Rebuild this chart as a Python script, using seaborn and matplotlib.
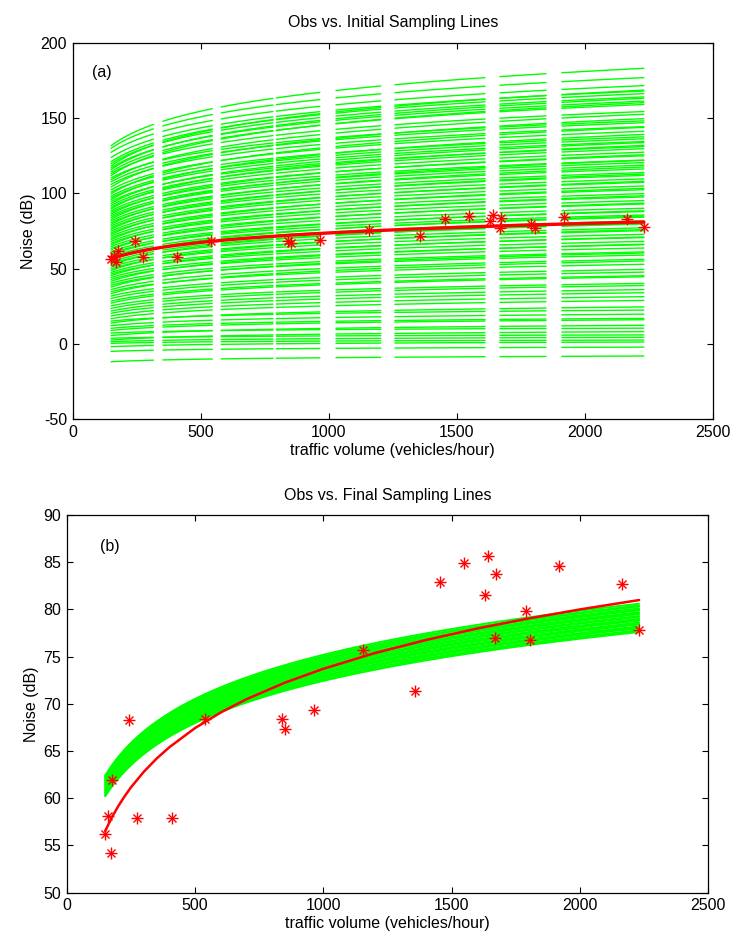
import numpy as np
import pandas as pd
import matplotlib
matplotlib.use("Agg")
import matplotlib.pyplot as plt
import seaborn as sns

# ---------------- data ----------------
obs_volume = [149, 160, 171, 175, 243, 273, 409, 539, 839, 851, 965, 1156,
              1355, 1455, 1547, 1628, 1641, 1668, 1673, 1789, 1806, 1917, 2165, 2230]
obs_noise = [56.2, 58.1, 54.2, 61.9, 68.3, 57.9, 57.9, 68.4, 68.4, 67.3, 69.3, 75.7,
             71.4, 82.9, 84.9, 81.5, 85.7, 77.0, 83.7, 79.8, 76.8, 84.6, 82.7, 77.8]

# fitted (red) curve, read at several volumes
fit_volume = [150, 165, 180, 200, 225, 250, 300, 350, 400, 500, 600, 700, 850,
              1000, 1200, 1400, 1600, 1800, 2000, 2230]
fit_noise = [56.51, 57.37, 58.16, 59.12, 60.18, 61.14, 62.79, 64.19, 65.40, 67.43,
             69.08, 70.48, 72.24, 73.71, 75.37, 76.76, 77.98, 79.04, 80.00, 80.99]

# sampling lines: value at the first volume (150) and at the last volume (2230)
init_start = [131.6, 129.9, 127.2, 123.8, 121.0, 119.7, 118.1, 116.9, 115.8, 114.3,
              113.1, 111.8, 110.2, 108.9, 107.6, 105.9, 104.1, 102.4, 100.8, 99.6,
              98.1, 96.9, 95.7, 94.5, 93.2, 92.0, 90.8, 89.7, 88.5, 87.4,
              86.2, 85.1, 84.0, 82.8, 81.7, 80.5, 79.4, 78.3, 77.1, 76.0,
              74.9, 73.7, 72.6, 71.5, 70.3, 69.2, 68.1, 66.9, 65.8, 64.7,
              63.5, 62.4, 61.2, 60.1, 58.9, 57.8, 56.7, 55.5, 54.4, 53.3,
              52.1, 51.0, 49.8, 48.7, 47.5, 46.4, 45.3, 44.1, 42.9, 41.6,
              40.3, 39.0, 37.8, 36.1, 34.7, 33.4, 31.8, 30.2, 28.4, 27.1,
              25.3, 23.6, 21.9, 20.4, 18.6, 16.8, 15.2, 13.9, 12.1, 10.4,
              9.0, 7.3, 5.6, 3.8, 2.6, 1.5, 0.4, -1.8, -4.9, -11.8]
init_end = [183.0, 176.8, 171.5, 167.9, 166.2, 164.0, 168.5, 161.2, 163.1, 159.0,
            154.3, 160.2, 148.1, 152.5, 146.9, 144.3, 149.6, 141.2, 137.5, 143.8,
            136.2, 134.4, 139.1, 131.0, 133.7, 129.6, 127.3, 131.8, 124.9, 122.1,
            125.6, 120.4, 118.7, 121.9, 116.2, 113.8, 117.5, 111.9, 109.6, 112.8,
            107.3, 104.9, 108.0, 102.4, 99.8, 103.3, 97.6, 95.2, 98.4, 92.9,
            90.1, 93.5, 87.9, 85.6, 88.4, 84.2, 81.7, 84.9, 79.6, 77.1,
            80.3, 75.2, 72.8, 75.9, 70.6, 68.1, 71.0, 65.9, 63.7, 66.2,
            61.1, 59.0, 60.4, 56.2, 52.9, 55.1, 49.5, 47.7, 45.3, 44.6,
            40.2, 38.8, 36.1, 34.0, 31.4, 28.9, 22.5, 24.6, 19.8, 17.0,
            16.1, 10.5, 12.4, 6.0, 8.2, 4.4, 2.6, 1.3, -2.1, -8.0]

final_start = [62.4, 62.3, 62.2, 62.1, 62.0, 61.9, 61.8, 61.7, 61.6, 61.5, 61.4, 61.3,
               61.2, 61.1, 61.0, 60.9, 60.8, 60.7, 60.6, 60.5, 60.4, 60.3, 60.2]
final_end = [80.6, 80.4, 80.3, 80.1, 80.0, 79.9, 79.7, 79.6, 79.5, 79.3, 79.2, 79.0,
             78.9, 78.8, 78.6, 78.5, 78.4, 78.2, 78.1, 78.0, 77.8, 77.7, 77.6]

line_volume_first = 150
line_volume_last = 2230

# visible pieces of the initial sampling lines (rendering gaps in the original)
init_pieces = [(150, 315), (352, 545), (580, 782), (795, 965),
               (1028, 1203), (1258, 1610), (1668, 1848), (1910, 2230)]


def curve_frame(starts, ends, pieces, npts):
    rows = []
    l0, l1 = np.log(line_volume_first), np.log(line_volume_last)
    for i, (s, e) in enumerate(zip(starts, ends)):
        for j, (a, b) in enumerate(pieces):
            xs = np.geomspace(a, b, npts)
            t = (np.log(xs) - l0) / (l1 - l0)
            ys = s + (e - s) * t
            for x, y in zip(xs, ys):
                rows.append((f"{i}_{j}", x, y))
    return pd.DataFrame(rows, columns=["unit", "volume", "noise"])


init_df = curve_frame(init_start, init_end, init_pieces, 14)
final_df = curve_frame(final_start, final_end, [(line_volume_first, line_volume_last)], 60)
obs_df = pd.DataFrame({"volume": obs_volume, "noise": obs_noise})
fit_df = pd.DataFrame({"volume": fit_volume, "noise": fit_noise})

# ---------------- styling ----------------
sns.set_theme(style="ticks")
plt.rcParams["font.family"] = ["Liberation Sans", "DejaVu Sans"]
plt.rcParams["font.size"] = 11.5
plt.rcParams["text.color"] = "black"
plt.rcParams["axes.labelcolor"] = "black"
plt.rcParams["xtick.color"] = "black"
plt.rcParams["ytick.color"] = "black"
plt.rcParams["axes.unicode_minus"] = False

GREEN = (0.0, 1.0, 0.0)
RED = (1.0, 0.0, 0.0)

fig = plt.figure(figsize=(7.31, 9.38), dpi=100)
ax1 = fig.add_axes([0.09945, 0.55299, 0.87592, 0.40149])
ax2 = fig.add_axes([0.09125, 0.0484, 0.87784, 0.40256])


def draw_obs(ax):
    ax.plot(obs_df["volume"], obs_df["noise"], linestyle="none", marker="+",
            markersize=9, markeredgewidth=1.0, color=RED, zorder=5)
    ax.plot(obs_df["volume"], obs_df["noise"], linestyle="none", marker="x",
            markersize=5.5, markeredgewidth=1.0, color=RED, zorder=5)


def style_axes(ax, ylim, yticks, title, tag, tag_xy):
    ax.set_xlim(0, 2500)
    ax.set_ylim(*ylim)
    ax.set_xticks(np.arange(0, 2501, 500))
    ax.set_yticks(yticks)
    ax.tick_params(direction="in", top=True, right=True, length=4.5, width=0.8,
                   pad=4, labelsize=11.5, colors="black")
    for sp in ax.spines.values():
        sp.set_visible(True)
        sp.set_linewidth(0.9)
        sp.set_color("black")
    ax.set_xlabel("traffic volume (vehicles/hour)", fontsize=11.5, labelpad=2,
                  color="black")
    ax.set_ylabel("Noise (dB)", fontsize=11.5, labelpad=3, color="black")
    ax.set_title(title, fontsize=11.5, pad=11, color="black")
    ax.text(tag_xy[0], tag_xy[1], tag, fontsize=11.5, va="center", ha="left",
            color="black")
    ax.set_facecolor("white")


# panel (a)
sns.lineplot(data=init_df, x="volume", y="noise", units="unit", estimator=None,
             color=GREEN, linewidth=1.0, sort=True, legend=False, ax=ax1)
sns.lineplot(data=fit_df, x="volume", y="noise", color=RED, linewidth=2.4,
             estimator=None, legend=False, ax=ax1, zorder=4)
draw_obs(ax1)
style_axes(ax1, (-50, 200), np.arange(-50, 201, 50),
           "Obs vs. Initial Sampling Lines", "(a)", (75, 180))

# panel (b)
sns.lineplot(data=final_df, x="volume", y="noise", units="unit", estimator=None,
             color=GREEN, linewidth=1.4, sort=True, legend=False, ax=ax2)
sns.lineplot(data=fit_df, x="volume", y="noise", color=RED, linewidth=1.8,
             estimator=None, legend=False, ax=ax2, zorder=4)
draw_obs(ax2)
style_axes(ax2, (50, 90), np.arange(50, 91, 5),
           "Obs vs. Final Sampling Lines", "(b)", (130, 86.7))

fig.savefig("out.png", dpi=100, facecolor="white")
